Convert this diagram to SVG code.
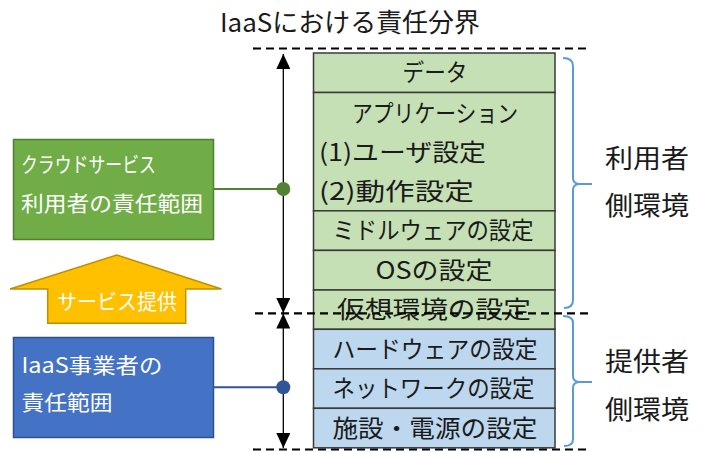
<svg xmlns="http://www.w3.org/2000/svg" width="703" height="452" viewBox="0 0 703 452">
<defs>
<style>
.t{font-family:"Noto Sans CJK JP","Noto Sans",sans-serif;fill:#1a1a1a}
.st{font-size:24px;text-anchor:middle}
.w{fill:#ffffff;font-size:21px}
.g{fill:#C5E0B4;stroke:#3a3a3a;stroke-width:1.5}
.b{fill:#BDD7EE;stroke:#3a3a3a;stroke-width:1.5}
.dash{stroke:#000;stroke-width:2.2;stroke-dasharray:8 5;fill:none}
.brace{fill:none;stroke:#5B9BD5;stroke-width:2}
.lbl{font-size:26px}
</style>
<marker id="ah" viewBox="0 0 15 14" refX="15" refY="7" markerWidth="15" markerHeight="14" markerUnits="userSpaceOnUse" orient="auto-start-reverse">
<path d="M0,0 L15,7 L0,14 z" fill="#000"/>
</marker>
</defs>
<rect width="703" height="452" fill="#ffffff"/>

<g id="title">
<text class="t" x="220" y="32" font-size="26" textLength="260" lengthAdjust="spacingAndGlyphs">IaaSにおける責任分界</text>
</g>

<g id="stack">
<g id="row-data"><rect class="g" x="313.5" y="53" width="241.5" height="39.5"/><text class="t st" x="435" y="81.2" textLength="65" lengthAdjust="spacingAndGlyphs">データ</text></g>
<g id="row-app"><rect class="g" x="313.5" y="92.5" width="241.5" height="118.3"/>
<text class="t st" x="435" y="122.2" textLength="166" lengthAdjust="spacingAndGlyphs">アプリケーション</text>
<text class="t" x="319" y="161.3" font-size="24" textLength="167" lengthAdjust="spacingAndGlyphs">(1)ユーザ設定</text>
<text class="t" x="319" y="199.8" font-size="24" textLength="155" lengthAdjust="spacingAndGlyphs">(2)動作設定</text></g>
<g id="row-mw"><rect class="g" x="313.5" y="210.8" width="241.5" height="39.6"/><text class="t st" x="433" y="239.4" textLength="201" lengthAdjust="spacingAndGlyphs">ミドルウェアの設定</text></g>
<g id="row-os"><rect class="g" x="313.5" y="250.4" width="241.5" height="39.6"/><text class="t st" x="434" y="279" textLength="117" lengthAdjust="spacingAndGlyphs">OSの設定</text></g>
<g id="row-virt"><rect class="g" x="313.5" y="290" width="241.5" height="39.3"/><text class="t st" x="434" y="318.3" textLength="194" lengthAdjust="spacingAndGlyphs">仮想環境の設定</text></g>
<g id="row-hw"><rect class="b" x="313.5" y="329.3" width="241.5" height="39.5"/><text class="t st" x="435" y="357.8" textLength="205" lengthAdjust="spacingAndGlyphs">ハードウェアの設定</text></g>
<g id="row-nw"><rect class="b" x="313.5" y="368.8" width="241.5" height="39.5"/><text class="t st" x="433.5" y="397.3" textLength="202" lengthAdjust="spacingAndGlyphs">ネットワークの設定</text></g>
<g id="row-fac"><rect class="b" x="313.5" y="408.3" width="241.5" height="39.5"/><text class="t st" x="435" y="436.8" textLength="205" lengthAdjust="spacingAndGlyphs">施設・電源の設定</text></g>
</g>

<g id="boundaries">
<line class="dash" x1="253" y1="48.5" x2="590" y2="48.5"/>
<line class="dash" x1="255" y1="313.3" x2="590" y2="313.3"/>
<line class="dash" x1="253" y1="449.5" x2="590" y2="449.5"/>
</g>

<g id="user-scope">
<rect x="13.5" y="139.5" width="200" height="100" fill="#70AD47" stroke="#507E32" stroke-width="1.5"/>
<text class="t w" x="21" y="172.3" textLength="135" lengthAdjust="spacingAndGlyphs">クラウドサービス</text>
<text class="t w" x="21" y="211" textLength="182" lengthAdjust="spacingAndGlyphs">利用者の責任範囲</text>
</g>

<g id="service-arrow">
<polygon points="116.7,255 221.5,289 185.7,289 185.7,323.3 47.7,323.3 47.7,289 10,289" fill="#FFC000" stroke="#BF9000" stroke-width="1.5" stroke-linejoin="miter"/>
<text class="t w" x="57" y="309.3" textLength="120" lengthAdjust="spacingAndGlyphs">サービス提供</text>
</g>

<g id="provider-scope">
<rect x="13.5" y="337.5" width="200" height="100" fill="#4472C4" stroke="#2F528F" stroke-width="1.5"/>
<text class="t w" x="21.5" y="373.3" textLength="141" lengthAdjust="spacingAndGlyphs">IaaS事業者の</text>
<text class="t w" x="21.5" y="409.8" textLength="91" lengthAdjust="spacingAndGlyphs">責任範囲</text>
</g>

<g id="user-env">
<path class="brace" d="M563,58 Q573,58 573,66 V178 Q573,184 580,184 H592 M580,184 Q573,184 573,190 V300 Q573,308 564,308"/>
<text class="t lbl" x="605" y="168" textLength="84" lengthAdjust="spacingAndGlyphs">利用者</text>
<text class="t lbl" x="605" y="214.5" textLength="84" lengthAdjust="spacingAndGlyphs">側環境</text>
</g>

<g id="provider-env">
<path class="brace" d="M563,316 Q573,316 573,323 V376 Q573,382 580,382 H592 M580,382 Q573,382 573,388 V439 Q573,446 564,446"/>
<text class="t lbl" x="605" y="371" textLength="84" lengthAdjust="spacingAndGlyphs">提供者</text>
<text class="t lbl" x="605" y="418.8" textLength="84" lengthAdjust="spacingAndGlyphs">側環境</text>
</g>

<g id="connectors">
<line x1="283.3" y1="54" x2="283.3" y2="313" stroke="#000" stroke-width="1.3" marker-start="url(#ah)" marker-end="url(#ah)"/>
<line x1="283.3" y1="313.6" x2="283.3" y2="448" stroke="#000" stroke-width="1.3" marker-start="url(#ah)" marker-end="url(#ah)"/>
<line x1="213.5" y1="189" x2="283.3" y2="189" stroke="#548235" stroke-width="2"/>
<circle cx="283.3" cy="189" r="7" fill="#548235"/>
<line x1="213.5" y1="387.3" x2="283.3" y2="387.3" stroke="#2F5597" stroke-width="2"/>
<circle cx="283.3" cy="387.3" r="7" fill="#2F5597"/>
</g>
</svg>
